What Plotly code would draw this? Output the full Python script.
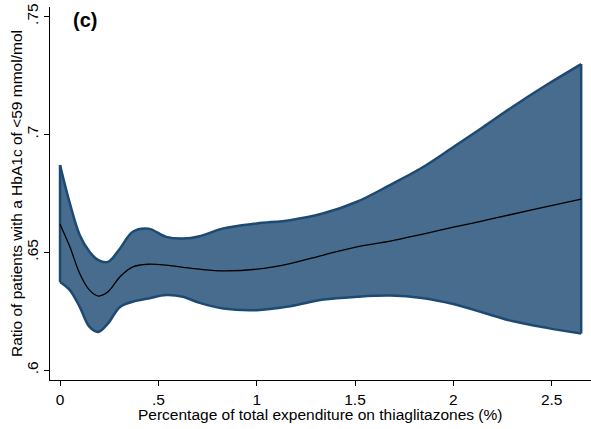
import plotly.graph_objects as go

# Share of expenditure on thiaglitazones (%)
x_vals = [0.0, 0.05, 0.10, 0.15, 0.195, 0.244, 0.305, 0.37, 0.45, 0.54, 0.625, 0.71,
          0.83, 1.0, 1.17, 1.34, 1.51, 1.68, 1.84, 2.0, 2.15, 2.30, 2.475, 2.65]
# Fitted ratio and its confidence band
fit = [0.6619, 0.6523, 0.6410, 0.6339, 0.6314, 0.6332, 0.6396, 0.6438, 0.6449, 0.6445,
       0.6436, 0.6428, 0.6421, 0.6428, 0.6452, 0.6488, 0.6523, 0.6547, 0.6576, 0.6606,
       0.6633, 0.6661, 0.6693, 0.6725]
upper = [0.6870, 0.6707, 0.6573, 0.6502, 0.6466, 0.6459, 0.6516, 0.6587, 0.6600, 0.6565,
         0.6558, 0.6568, 0.6601, 0.6622, 0.6636, 0.6665, 0.6714, 0.6786, 0.6858, 0.6946,
         0.7030, 0.7116, 0.7210, 0.7298]
lower = [0.6374, 0.6339, 0.6268, 0.6183, 0.6162, 0.6198, 0.6268, 0.6290, 0.6304, 0.6318,
         0.6311, 0.6285, 0.6261, 0.6254, 0.6271, 0.6299, 0.6311, 0.6316, 0.6306, 0.6280,
         0.6244, 0.6208, 0.6179, 0.6155]

x_ticks = [0, 0.5, 1, 1.5, 2, 2.5]
x_tick_text = ["0", ".5", "1", "1.5", "2", "2.5"]
y_ticks = [0.6, 0.65, 0.7, 0.75]
y_tick_text = [".6", ".65", ".7", ".75"]

FILL = "#486C8D"
EDGE = "#1C4A72"
FONT = "Liberation Sans, Arial, sans-serif"
FS = 15.5
SMOOTH = dict(shape="spline", smoothing=1.0)

# plot-area box in pixels (used to place free text)
L, R, T, B = 50, 591, 7, 380


def px_x(p):
    return (p - L) / (R - L)


def px_y(p):
    return 1 - (p - T) / (B - T)


fig = go.Figure()
# shaded confidence band
fig.add_trace(go.Scatter(x=x_vals, y=lower, mode="lines",
                         line=dict(width=0, **SMOOTH), hoverinfo="skip", showlegend=False))
fig.add_trace(go.Scatter(x=x_vals, y=upper, mode="lines", fill="tonexty", fillcolor=FILL,
                         line=dict(width=0, **SMOOTH), hoverinfo="skip", showlegend=False))
# band outline: lower, upper and the two closing edges
for ys in (lower, upper):
    fig.add_trace(go.Scatter(x=x_vals, y=ys, mode="lines",
                             line=dict(color=EDGE, width=2.5, **SMOOTH),
                             hoverinfo="skip", showlegend=False))
for i in (0, -1):
    fig.add_trace(go.Scatter(x=[x_vals[i], x_vals[i]], y=[lower[i], upper[i]], mode="lines",
                             line=dict(color=EDGE, width=2.5),
                             hoverinfo="skip", showlegend=False))
# fitted line
fig.add_trace(go.Scatter(x=x_vals, y=fit, mode="lines",
                         line=dict(color="black", width=1.3, **SMOOTH), showlegend=False))

fig.update_layout(
    width=591, height=429,
    margin=dict(l=L, r=591 - R, t=T, b=429 - B),
    paper_bgcolor="white", plot_bgcolor="white",
    font=dict(family=FONT, size=FS, color="black"),
    xaxis=dict(
        range=[-0.051, 2.70], tickvals=x_ticks, ticktext=x_tick_text,
        showline=True, linecolor="black", linewidth=1,
        ticks="outside", ticklen=5, tickcolor="black",
        showgrid=False, zeroline=False,
    ),
    yaxis=dict(
        range=[0.5958, 0.754], tickvals=y_ticks, ticktext=y_tick_text,
        tickangle=-90,
        showline=True, linecolor="black", linewidth=1,
        ticks="outside", ticklen=5, tickcolor="black",
        showgrid=False, zeroline=False,
    ),
    annotations=[
        dict(text="<b>(c)</b>", xref="paper", yref="paper",
             x=px_x(85), y=px_y(20), xanchor="center", yanchor="middle",
             showarrow=False, font=dict(size=20, family=FONT)),
        dict(text="Percentage of total expenditure on thiaglitazones (%)",
             xref="paper", yref="paper", x=px_x(320), y=px_y(414),
             xanchor="center", yanchor="middle", showarrow=False,
             font=dict(size=FS, family=FONT)),
        dict(text="Ratio of patients with a HbA1c of <59 mmol/mol",
             xref="paper", yref="paper", x=px_x(16), y=px_y(194),
             xanchor="center", yanchor="middle", textangle=-90, showarrow=False,
             font=dict(size=FS, family=FONT)),
    ],
)

fig.write_html("out.html")
